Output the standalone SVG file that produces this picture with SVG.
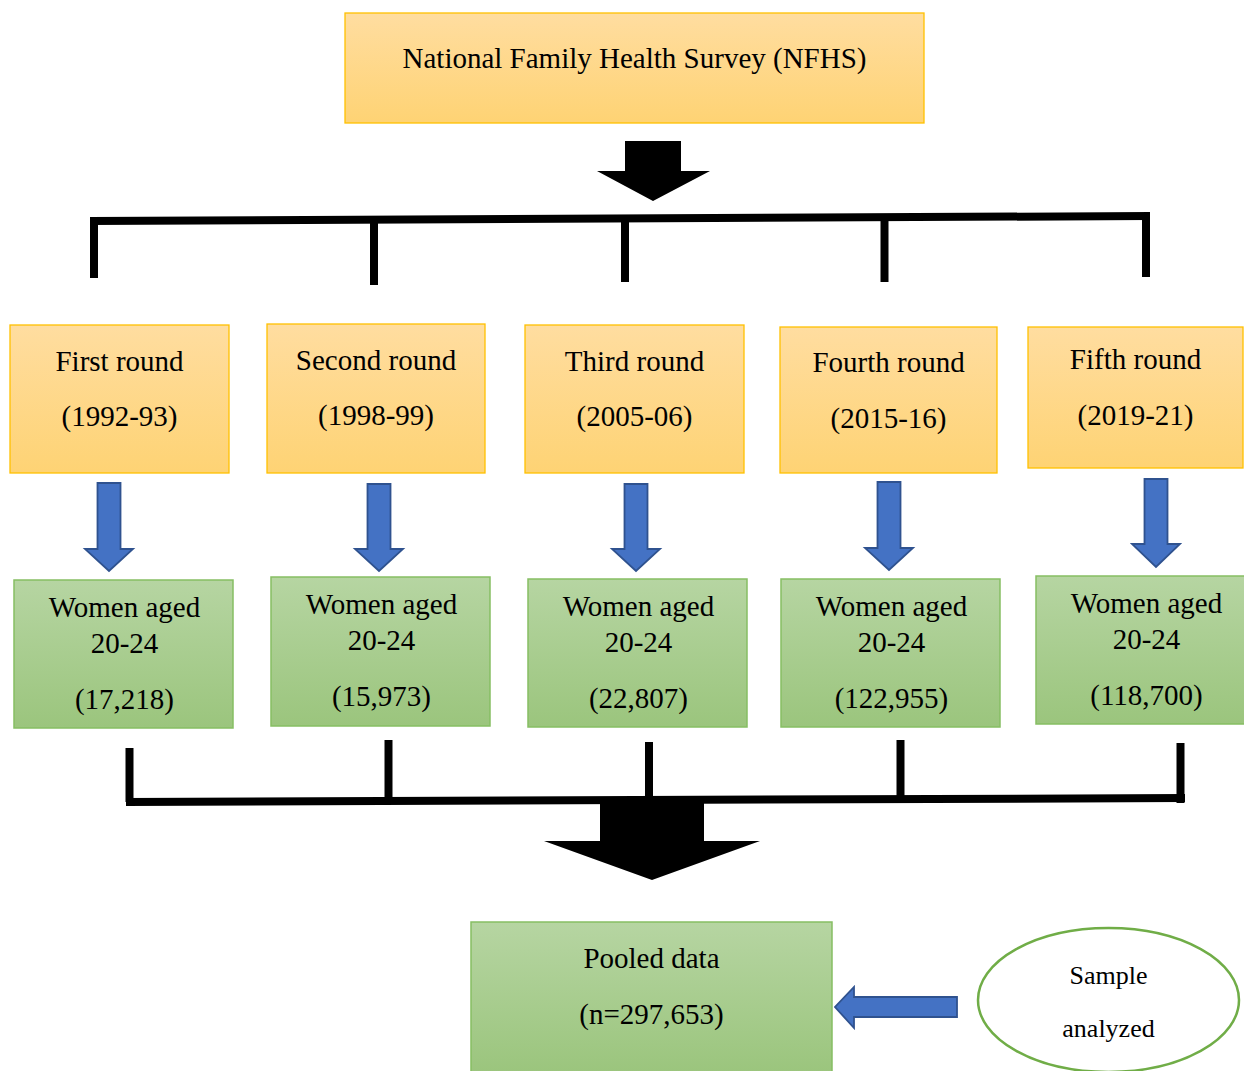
<svg xmlns="http://www.w3.org/2000/svg" width="1244" height="1071" viewBox="0 0 1244 1071">
<defs>
<linearGradient id="og" x1="0" y1="0" x2="0" y2="1"><stop offset="0" stop-color="#FFDDA0"/><stop offset="1" stop-color="#FED374"/></linearGradient>
<linearGradient id="gg" x1="0" y1="0" x2="0" y2="1"><stop offset="0" stop-color="#B6D5A2"/><stop offset="1" stop-color="#9BC57D"/></linearGradient>
<style>
.ob{fill:url(#og);stroke:#FFC000;stroke-width:1.3}
.gb{fill:url(#gg);stroke:#86BE63;stroke-width:1.5}
.t{font-family:"Liberation Serif","Times New Roman",serif;font-size:29px;fill:#000;text-anchor:middle}
.ts{font-family:"Liberation Serif","Times New Roman",serif;font-size:26px;fill:#000;text-anchor:middle}
.br{stroke:#000;stroke-width:8;fill:none}
.ba{fill:#4472C4;stroke:#2F528F;stroke-width:1.8;stroke-linejoin:miter}
</style>
</defs>
<rect width="1244" height="1071" fill="#fff"/>
<g id="nfhs"><rect class="ob" x="345" y="13" width="579" height="110"/><text class="t" x="634.5" y="68">National Family Health Survey (NFHS)</text></g>
<g id="connectors">
<polygon points="625,141 681,141 681,171 710,171 653,201 597,171 625,171" fill="#000"/>
<line class="br" x1="90" y1="221" x2="1150" y2="216"/>
<line class="br" x1="94" y1="220" x2="94" y2="278"/>
<line class="br" x1="374" y1="219" x2="374" y2="285"/>
<line class="br" x1="625" y1="218" x2="625" y2="282"/>
<line class="br" x1="884.5" y1="217" x2="884.5" y2="282"/>
<line class="br" x1="1146" y1="213" x2="1146" y2="277"/>
<polygon class="ba" points="97.5,483 120.5,483 120.5,549 133,549 109,571 85,549 97.5,549"/>
<polygon class="ba" points="367.5,484 390.5,484 390.5,549 403,549 379,571 355,549 367.5,549"/>
<polygon class="ba" points="624.5,484 647.5,484 647.5,549 660,549 636,571 612,549 624.5,549"/>
<polygon class="ba" points="877.5,482 900.5,482 900.5,548 913,548 889,570 865,548 877.5,548"/>
<polygon class="ba" points="1144.5,479 1167.5,479 1167.5,544 1180,544 1156,567 1132,544 1144.5,544"/>
<line class="br" x1="126" y1="802" x2="1185" y2="798"/>
<line class="br" x1="129.5" y1="748" x2="129.5" y2="802"/>
<line class="br" x1="388.5" y1="740" x2="388.5" y2="801"/>
<line class="br" x1="649" y1="742" x2="649" y2="800"/>
<line class="br" x1="900.5" y1="740" x2="900.5" y2="799"/>
<line class="br" x1="1180.5" y1="743" x2="1180.5" y2="803"/>
<polygon points="600,800 704,800 704,841 760,841 652,880 544,841 600,841" fill="#000"/>
<polygon class="ba" points="957,997 957,1017 854,1017 854,1028 835,1007 854,987 854,997"/>
</g>
<g id="r1"><rect class="ob" x="10" y="325" width="219" height="148"/><text class="t" x="119.5" y="371">First round</text><text class="t" x="119.5" y="426">(1992-93)</text></g>
<g id="r2"><rect class="ob" x="267" y="324" width="218" height="149"/><text class="t" x="376" y="370">Second round</text><text class="t" x="376" y="425">(1998-99)</text></g>
<g id="r3"><rect class="ob" x="525" y="325" width="219" height="148"/><text class="t" x="634.5" y="371">Third round</text><text class="t" x="634.5" y="426">(2005-06)</text></g>
<g id="r4"><rect class="ob" x="780" y="327" width="217" height="146"/><text class="t" x="888.5" y="372">Fourth round</text><text class="t" x="888.5" y="428">(2015-16)</text></g>
<g id="r5"><rect class="ob" x="1028" y="327" width="215" height="141"/><text class="t" x="1135.5" y="369">Fifth round</text><text class="t" x="1135.5" y="425">(2019-21)</text></g>
<g id="w1"><rect class="gb" x="14" y="580" width="219" height="148"/><text class="t" x="124.5" y="617">Women aged</text><text class="t" x="124.5" y="653">20-24</text><text class="t" x="124.5" y="709">(17,218)</text></g>
<g id="w2"><rect class="gb" x="271" y="577" width="219" height="149"/><text class="t" x="381.5" y="614">Women aged</text><text class="t" x="381.5" y="650">20-24</text><text class="t" x="381.5" y="706">(15,973)</text></g>
<g id="w3"><rect class="gb" x="528" y="579" width="219" height="148"/><text class="t" x="638.5" y="616">Women aged</text><text class="t" x="638.5" y="652">20-24</text><text class="t" x="638.5" y="708">(22,807)</text></g>
<g id="w4"><rect class="gb" x="781" y="579" width="219" height="148"/><text class="t" x="891.5" y="616">Women aged</text><text class="t" x="891.5" y="652">20-24</text><text class="t" x="891.5" y="708">(122,955)</text></g>
<g id="w5"><rect class="gb" x="1036" y="576" width="210" height="148"/><text class="t" x="1146.5" y="613">Women aged</text><text class="t" x="1146.5" y="649">20-24</text><text class="t" x="1146.5" y="705">(118,700)</text></g>
<g id="pooled"><rect class="gb" x="471" y="922" width="361" height="150"/><text class="t" x="651.5" y="968">Pooled data</text><text class="t" x="651.5" y="1024">(n=297,653)</text></g>
<g id="sample"><ellipse cx="1108.5" cy="1000" rx="130.5" ry="72" fill="#fff" stroke="#70AD47" stroke-width="2.5"/><text class="ts" x="1108.5" y="984">Sample</text><text class="ts" x="1108.5" y="1037">analyzed</text></g>
</svg>
